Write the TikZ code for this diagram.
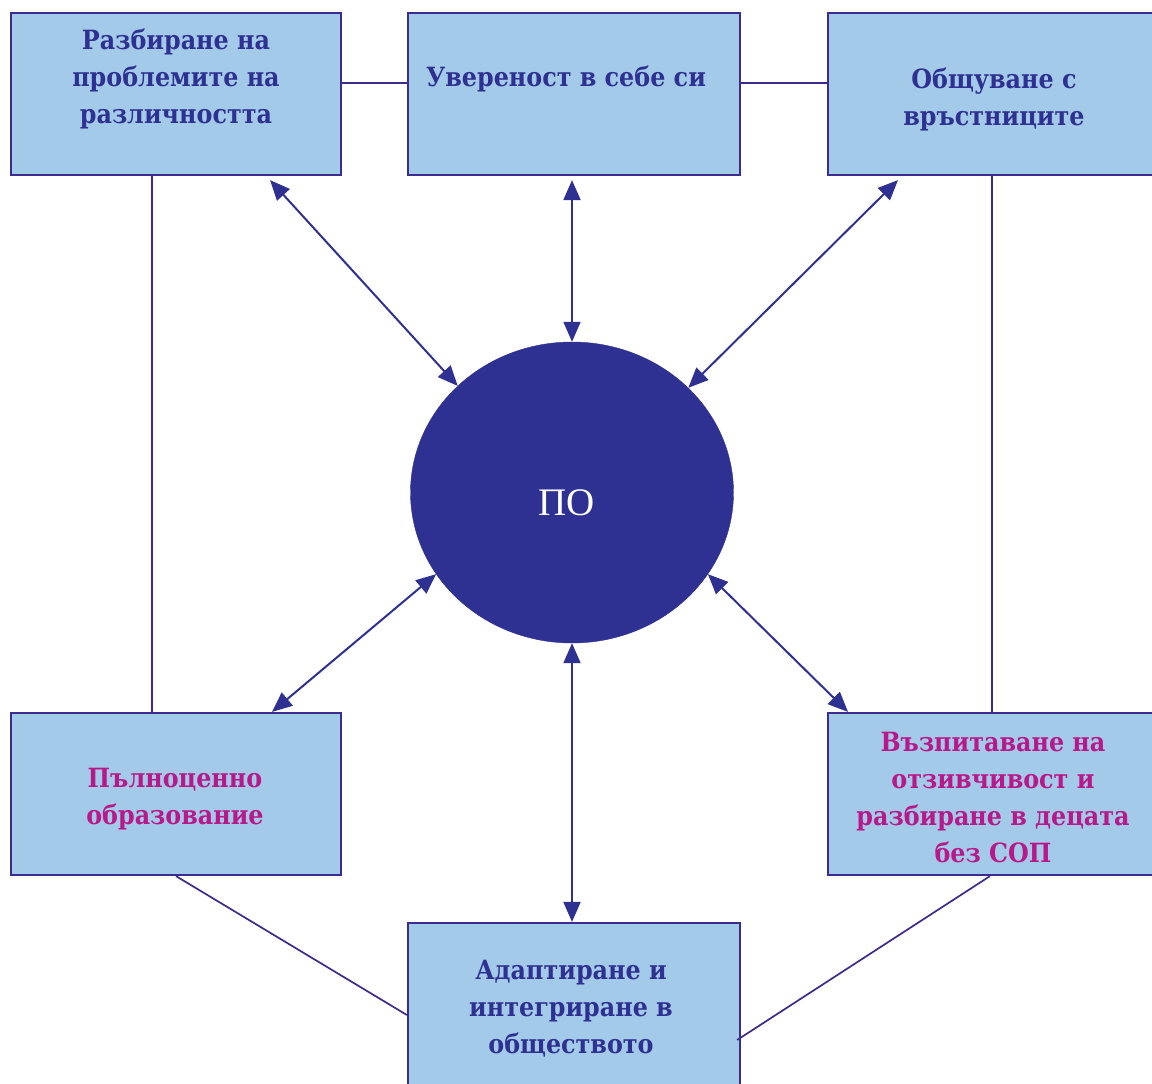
\documentclass[tikz,border=0pt]{standalone}
\usepackage{fontspec}
\setmainfont{DejaVu Serif Condensed}
\newfontfamily\ltser{Liberation Serif}
\usetikzlibrary{arrows.meta,shapes.geometric}
\definecolor{boxfill}{HTML}{A4CAE9}
\definecolor{boxline}{HTML}{3B2D8F}
\definecolor{navy}{HTML}{2E3192}
\definecolor{magen}{HTML}{B8198A}
\definecolor{lncol}{HTML}{3F2A8C}
\begin{document}
\begin{tikzpicture}[x=1pt,y=-1pt,
  box/.style={draw=boxline,line width=2.2pt,fill=boxfill,rectangle,inner sep=0pt},
  lbl/.style={align=center,font=\bfseries\fontsize{26.5}{37}\selectfont,text=navy,inner sep=0pt},
  lblm/.style={lbl,text=magen},
  conn/.style={draw=lncol,line width=1.7pt},
  biarrow/.style={draw=navy,line width=2pt,{Triangle[length=20pt,width=17pt]}-{Triangle[length=20pt,width=17pt]}}
]
\useasboundingbox (0,0) rectangle (1152,1084);
\fill[white] (0,0) rectangle (1152,1084);
% boxes
\node[box,minimum width=330pt,minimum height=162pt] (tl) at (176,94) {};
\node[box,minimum width=332pt,minimum height=162pt] (tm) at (574,94) {};
\node[box,minimum width=328pt,minimum height=162pt] (tr) at (992,94) {};
\node[box,minimum width=330pt,minimum height=162pt] (bl) at (176,794) {};
\node[box,minimum width=328pt,minimum height=162pt] (br) at (992,794) {};
\node[box,minimum width=332pt,minimum height=170pt] (bm) at (574,1008) {};
% circle
\node[ellipse,fill=navy,draw=navy,minimum width=323pt,minimum height=301pt,inner sep=0pt] (po) at (572,492.5) {};
\node[font=\ltser\fontsize{39}{40}\selectfont,text=white,inner sep=0pt] (pot) at (567,503) {ПО};
% texts
\node[lbl] (t1) at (176,79) {Разбиране на\\проблемите на\\различността};
\node[lbl] (t2) at (566,79) {Увереност в себе си};
\node[lbl] (t3) at (994,99) {Общуване с\\връстниците};
\node[lblm] (t4) at (175,799) {Пълноценно\\образование};
\node[lblm] (t5) at (993,798) {Възпитаване на\\отзивчивост и\\разбиране в децата\\без СОП};
\node[lbl] (t6) at (571,1009) {Адаптиране и\\интегриране в\\обществото};
% plain connectors
\draw[conn] ([yshift=11pt]tl.east) -- ([yshift=11pt]tm.west);
\draw[conn] ([yshift=11pt]tm.east) -- ([yshift=11pt]tr.west);
\draw[conn] ([xshift=-24pt]tl.south) -- ([xshift=-24pt]bl.north);
\draw[conn] (tr.south) -- (br.north);
\draw[conn] (bl.south) -- ([yshift=-7pt]bm.west);
\draw[conn] ([xshift=-2pt]br.south) -- ([xshift=-4pt,yshift=-32pt]bm.east);
% double arrows
\draw[biarrow] ([xshift=94pt,yshift=-4pt]tl.south) -- (po.137);
\draw[biarrow] ([xshift=-2pt,yshift=-4pt]tm.south) -- (po.north);
\draw[biarrow] ([xshift=-94pt,yshift=-4pt]tr.south) -- (po.42);
\draw[biarrow] ([xshift=96pt]bl.north) -- (po.211);
\draw[biarrow] ([xshift=-144pt]br.north) -- (po.329);
\draw[biarrow] (po.south) -- ([xshift=-2pt]bm.north);
\end{tikzpicture}
\end{document}
